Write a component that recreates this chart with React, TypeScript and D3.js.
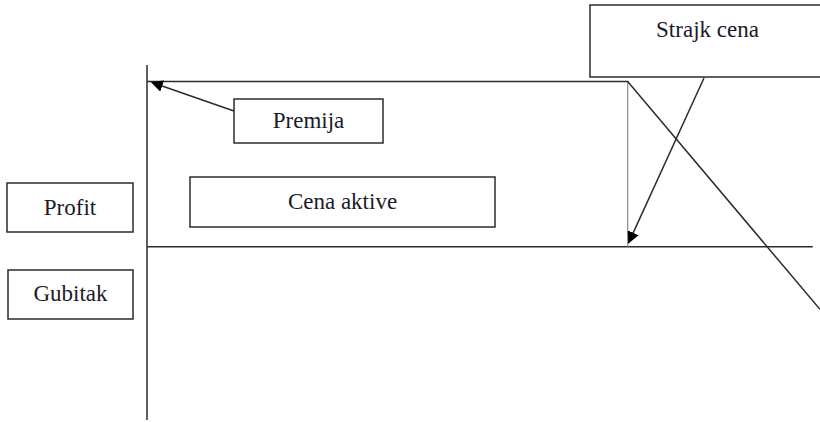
import React from 'react';
import * as d3 from 'd3';

const width = 820;
const height = 422;

// payoff of a written call: premium kept until the strike, then falling
const prices = [0, 100, 140];
const profits = [5, 5, -1.9];
const strike = 100;
const premium = 5;
const zeroAxisEnd = 138.5;

const labels = ['Profit', 'Gubitak', 'Cena aktive', 'Premija', 'Strajk cena'];

const xScale = d3.scaleLinear().domain([0, 140]).range([147, 820]);
const yScale = d3.scaleLinear().domain([-5.25, 5.5]).range([420, 65]);

const boxes = [
  { x: 7, y: 183, w: 126, h: 49, ty: 215 },
  { x: 8, y: 270, w: 125, h: 49, ty: 301 },
  { x: 190, y: 177, w: 305, h: 50, ty: 209 },
  { x: 234, y: 99, w: 149, h: 44, ty: 128 },
  { x: 590, y: 5, w: 235, h: 72, ty: 37 },
];

const stroke = '#2b2b2b';

const App = () => {
  const payoff = d3.line<number>()
    .x((d, i) => xScale(prices[i]))
    .y((d, i) => yScale(profits[i]));

  const x0 = xScale(0);
  const xK = xScale(strike);
  const y0 = yScale(0);
  const yP = yScale(premium);

  return (
    <svg
      width={width}
      height={height}
      style={{ position: 'absolute', left: 0, top: 0, background: '#fff' }}
      fontFamily="'Liberation Serif', 'Times New Roman', serif"
    >
      <defs>
        <marker id="head" viewBox="0 0 10 10" refX="9" refY="5"
          markerWidth="8" markerHeight="8" orient="auto">
          <path d="M0,0 L10,5 L0,10 z" fill="#000" />
        </marker>
      </defs>

      {/* axes */}
      <line x1={x0} x2={x0} y1={yScale(5.5)} y2={yScale(-5.25)} stroke={stroke} strokeWidth={1.5} />
      <line x1={x0} x2={xScale(zeroAxisEnd)} y1={y0} y2={y0} stroke={stroke} strokeWidth={1.5} />

      {/* strike marker */}
      <line x1={xK} x2={xK} y1={yP} y2={y0} stroke="#8a8a8a" strokeWidth={1.2} />

      {/* payoff */}
      <path d={payoff(profits) || ''} fill="none" stroke={stroke} strokeWidth={1.5} />

      {/* label boxes */}
      {boxes.map((b, i) => (
        <g key={i}>
          <rect x={b.x} y={b.y} width={b.w} height={b.h} fill="#fff" stroke={stroke} strokeWidth={1.5} />
          <text x={b.x + b.w / 2} y={b.ty} fontSize="23" textAnchor="middle" fill="#1a1a2a">
            {labels[i]}
          </text>
        </g>
      ))}

      {/* pointers */}
      <line x1={234} y1={111} x2={x0 + 5} y2={yP + 1} stroke={stroke} strokeWidth={1.5} markerEnd="url(#head)" />
      <line x1={704} y1={78} x2={xK + 1} y2={y0 - 4} stroke={stroke} strokeWidth={1.5} markerEnd="url(#head)" />
    </svg>
  );
};

export default App;
